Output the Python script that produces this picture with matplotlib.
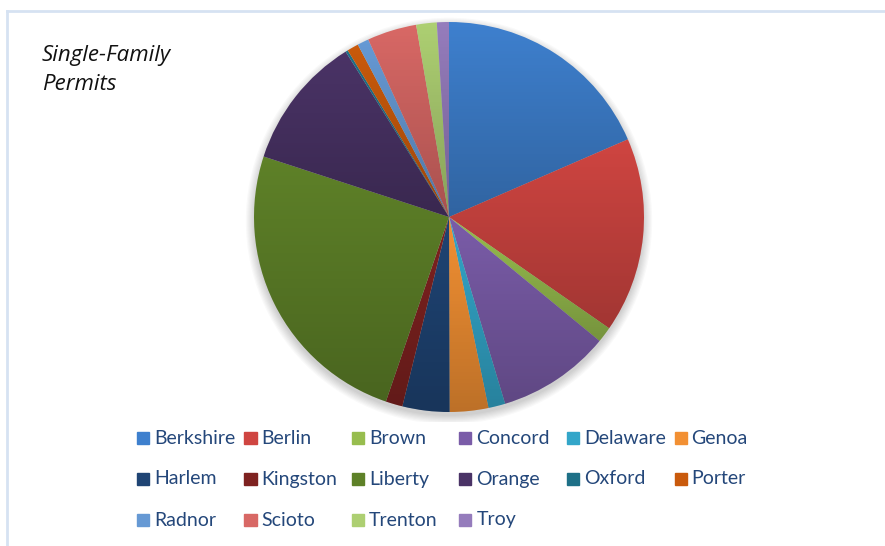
import numpy as np
import matplotlib.pyplot as plt
from matplotlib.patches import Rectangle, Circle
from matplotlib.lines import Line2D

townships = ["Berkshire", "Berlin", "Brown", "Concord", "Delaware", "Genoa",
             "Harlem", "Kingston", "Liberty", "Orange", "Oxford", "Porter",
             "Radnor", "Scioto", "Trenton", "Troy"]
permits = [18.5, 16.2, 1.3, 9.4, 1.4, 3.2, 3.9, 1.4, 24.8, 11.1, 0.2, 0.95,
           0.95, 4.1, 1.7, 1.0]
colors = ["#3e80ce", "#cf4541", "#97bd4e", "#7a5ca8", "#33a6c9", "#f29033",
          "#1f4474", "#7e2220", "#5e8128", "#4a3366", "#1e7087", "#c95a0c",
          "#6699d4", "#d86865", "#adcf72", "#957cbc"]

W, H = 885, 546
fig = plt.figure(figsize=(W / 100, H / 100), dpi=100)

# light frame around the chart area (top and left edges visible)
fig.add_artist(Line2D([7 / W, 1], [1 - 11 / H, 1 - 11 / H], color="#d6e2f2", lw=2))
fig.add_artist(Line2D([7 / W, 7 / W], [0, 1 - 11 / H], color="#d6e2f2", lw=2))

# pie
cx, cy, r = 449, 217, 195
pad = 10
ax = fig.add_axes([(cx - r - pad) / W, (H - cy - r - pad) / H,
                   2 * (r + pad) / W, 2 * (r + pad) / H])
lim = (r + pad) / r

# soft shadow below the pie
for k in range(8):
    ax.add_patch(Circle((0, -0.02), 1 + 0.006 * k, color="black",
                        alpha=0.025, lw=0, zorder=0))

wedges, _ = ax.pie(permits, colors=colors, startangle=90, counterclock=False,
                   wedgeprops=dict(linewidth=0))

# vertical shading on each slice
grad = np.zeros((64, 2, 4))
grad[:, :, 3] = np.linspace(0, 0.22, 64)[:, None]
for w in wedges:
    b = w.get_path().get_extents()
    im = ax.imshow(grad, extent=[b.x0, b.x1, b.y0, b.y1], origin="upper",
                   aspect="auto", zorder=3, interpolation="bilinear")
    im.set_clip_path(w)

ax.set_xlim(-lim, lim)
ax.set_ylim(-lim, lim)
ax.axis("off")

fig.text(42 / W, 1 - 70 / H, "Single-Family\nPermits", fontsize=16,
         style="italic", family="Open Sans", ha="left", va="center",
         linespacing=1.55, color="#111111")

# legend, 6 equal columns
x0, dx = 137, 107.5
y0, dy = 438, 41
for i, (name, c) in enumerate(zip(townships, colors)):
    row, col = divmod(i, 6)
    x = x0 + col * dx
    y = y0 + row * dy
    fig.add_artist(Rectangle((x / W, (H - y - 6) / H), 12 / W, 12 / H,
                             transform=fig.transFigure, color=c))
    fig.text((x + 17) / W, (H - y) / H, name, fontsize=14, family="Lato",
             color="#24477a", ha="left", va="center")

fig.savefig("out.png", dpi=100)
